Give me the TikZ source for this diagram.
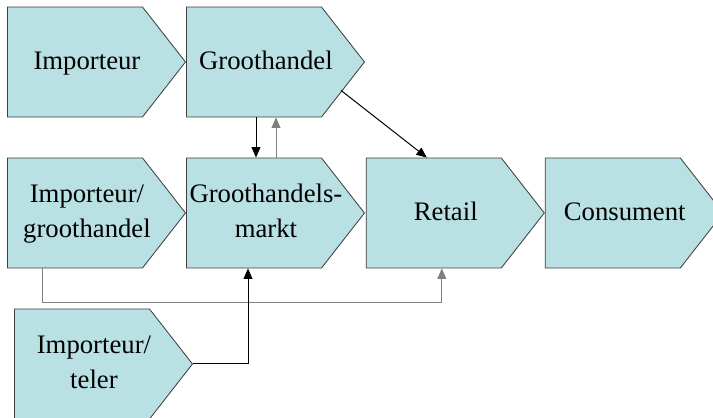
\documentclass[tikz,border=0pt]{standalone}
\usepackage{fontspec}
\setmainfont{Liberation Serif}
\usetikzlibrary{positioning,calc,shapes.symbols}
\usetikzlibrary{arrows.meta}
\definecolor{stagefill}{RGB}{185,224,227}
\newcommand{\stagetext}[1]{\makebox[0pt]{\hspace*{0.6cm}\begin{tabular}{@{}c@{}}#1\end{tabular}}}

\begin{document}
\begin{tikzpicture}[
  x = 0.025cm,
  y = 0.025cm,
  stage/.style = {
    draw = black!75,
    line width = 0.6pt,
    fill = stagefill,
    shape = signal,
    signal to = east,
    signal pointer angle = 104,
    minimum width = 4.45cm,
    minimum height = 2.75cm,
    inner sep = 0pt,
    font = \fontsize{19}{25}\selectfont,
  },
  link/.style = {
    line width = 0.7pt,
    black,
  },
  glink/.style = {
    link,
    black!50,
  },
  >={Triangle[length=2.6mm,width=2.2mm]},
]

  \useasboundingbox (0,0) rectangle (713,418);

  \node[stage,anchor=west] (imp) at (7,356) {\stagetext{Importeur}};
  \node[stage] (groot) [right=0pt of imp] {\stagetext{Groothandel}};

  \node[stage,anchor=west] (impgroot) at (7,205) {\stagetext{Importeur/\\groothandel}};
  \node[stage] (markt) [right=0pt of impgroot] {\stagetext{Groothandels-\\markt}};
  \node[stage] (retail) [right=0.02cm of markt] {\stagetext{Retail}};
  \node[stage] (cons) [right=0pt of retail] {\stagetext{Consument}};

  \node[stage,anchor=west] (teler) at (14,54) {\stagetext{Importeur/\\teler}};

  \draw[link,->] ($(groot.south west)+(70,0)$) -- ($(markt.north west)+(70,0)$);
  \draw[glink,->] ($(markt.north west)+(90,0)$) -- ($(groot.south west)+(90,0)$);
  \draw[link,->] ($(groot.south west)+(155,27)$) -- ($(retail.north west)+(61,0)$);

  \draw[glink,->] ($(impgroot.south west)+(35,0)$) -- ++(0,-34) -| ($(retail.south west)+(76,0)$);
  \draw[link,->] (teler.east) -| ($(markt.south west)+(62,0)$);

\end{tikzpicture}
\end{document}
